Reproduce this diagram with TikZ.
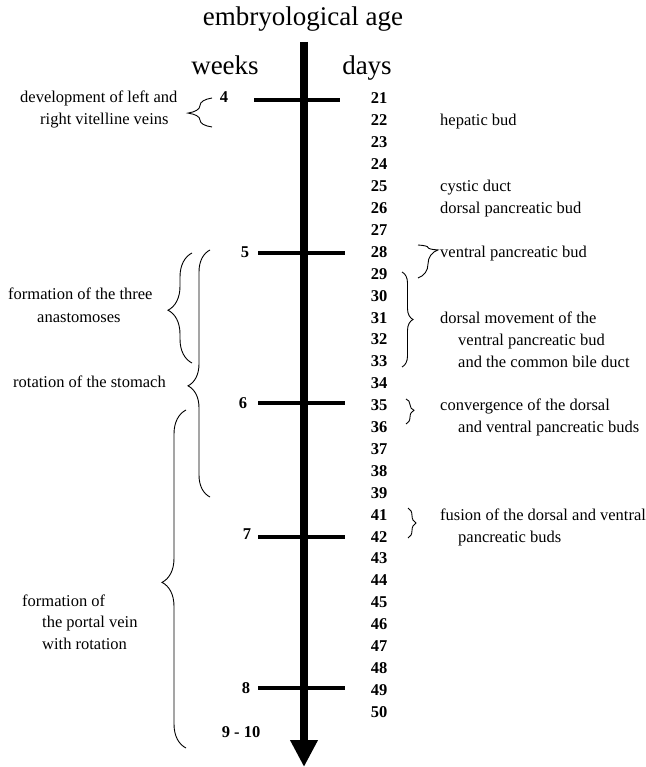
\documentclass[tikz,border=0pt]{standalone}
\usepackage{fontspec}
\setmainfont{Liberation Serif}
\usetikzlibrary{arrows.meta,decorations.pathreplacing}
\begin{document}
\begin{tikzpicture}[x=1pt,y=-1pt,
  txt/.style={inner sep=0pt,anchor=base west,font=\fontsize{16.5}{20}\selectfont},
  daynum/.style={inner sep=0pt,anchor=base,font=\fontsize{16.5}{20}\selectfont\bfseries},
  weeknum/.style={daynum},
  headtxt/.style={inner sep=0pt,anchor=base,font=\fontsize{27}{30}\selectfont},
  tickbar/.style={line width=4pt},
  shaft/.style={line width=7.5pt,-{Triangle[width=26pt,length=27pt]}},
  brc/.style 2 args={decorate,line width=0.9pt,decoration={brace,amplitude=#1,aspect=#2}}
]
\useasboundingbox (0,0) rectangle (645,767);

% titles
\node[headtxt] (title) at (303,26) {embryological age};
\node[headtxt] (weeks) at (225,75) {weeks};
\node[headtxt] (days) at (367,75) {days};

% week ticks
\foreach \w/\y/\xa/\xb in {4/100/254/340,5/253/258/345,6/403/258/345,7/537/258/345,8/688/258/345}{
  \draw[tickbar] (\xa,\y) coordinate (w\w a) -- (\xb,\y) coordinate (w\w b);
}

% main arrow
\coordinate (top) at (304,42);
\coordinate (tip) at (304,767);
\draw[shaft] (top) -- (tip);

% week labels
\node[weeknum] (wk4) at (224,103) {4};
\node[weeknum] (wk5) at (245,257) {5};
\node[weeknum] (wk6) at (243,408.5) {6};
\node[weeknum] (wk7) at (247,539) {7};
\node[weeknum] (wk8) at (246,693) {8};
\node[weeknum] (wk9) at (241,737) {9 - 10};

% day numbers
\foreach \d [count=\i from 0] in {21,22,...,39,41,42,...,50}{
  \node[daynum] (d\d) at (379,{104+21.9*\i}) {\d};
}

% right side texts
\node[txt] (hep) at (440,126) {hepatic bud};
\node[txt] (cys) at (440,191.6) {cystic duct};
\node[txt] (dpb) at (440,213.5) {dorsal pancreatic bud};
\node[txt] (vpb) at (440,257) {ventral pancreatic bud};
\node[txt] (dm1) at (440,323) {dorsal movement of the};
\node[txt] (dm2) at (458,345) {ventral pancreatic bud};
\node[txt] (dm3) at (458,367) {and the common bile duct};
\node[txt] (cv1) at (440,410.6) {convergence of the dorsal};
\node[txt] (cv2) at (458,432.5) {and ventral pancreatic buds};
\node[txt] (fu1) at (440,520) {fusion of the dorsal and ventral};
\node[txt] (fu2) at (458,542) {pancreatic buds};

% left side texts
\node[txt] (dv1) at (20,103) {development of left and};
\node[txt] (dv2) at (40,125) {right vitelline veins};
\node[txt] (an1) at (8,299) {formation of the three};
\node[txt] (an2) at (37,322) {anastomoses};
\node[txt] (rot) at (13,387) {rotation of the stomach};
\node[txt] (pv1) at (22,606) {formation of};
\node[txt] (pv2) at (42,627) {the portal vein};
\node[txt] (pv3) at (42,649) {with rotation};

% braces (left, "{")
\coordinate (b4b) at (212,127); \coordinate (b4t) at (212,98);
\draw[brc={24pt}{0.48}] (b4b) -- (b4t);
\coordinate (bab) at (192,363); \coordinate (bat) at (192,253);
\draw[brc={24pt}{0.48}] (bab) -- (bat);
\coordinate (brb) at (210,497); \coordinate (brt) at (210,250);
\draw[brc={22pt}{0.45}] (brb) -- (brt);
\coordinate (bpb) at (186,748); \coordinate (bpt) at (186,410);
\draw[brc={24pt}{0.49}] (bpb) -- (bpt);

% braces (right, "}")
\coordinate (bvt) at (418,245); \coordinate (bvb) at (418,278);
\draw[brc={20pt}{0.15}] (bvt) -- (bvb);
\coordinate (bdt) at (402,272); \coordinate (bdb) at (402,367);
\draw[brc={11pt}{0.5}] (bdt) -- (bdb);
\coordinate (bct) at (406,399); \coordinate (bcb) at (406,424);
\draw[brc={8pt}{0.45}] (bct) -- (bcb);
\coordinate (bft) at (408,508); \coordinate (bfb) at (408,538);
\draw[brc={8pt}{0.5}] (bft) -- (bfb);
\end{tikzpicture}
\end{document}
